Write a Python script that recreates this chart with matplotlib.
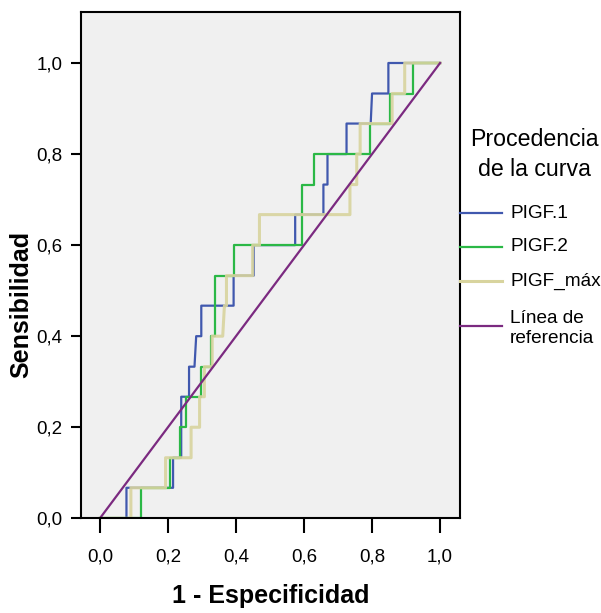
import matplotlib
matplotlib.use('Agg')
import matplotlib.pyplot as plt
from matplotlib.lines import Line2D

plt.rcParams['font.family'] = ['Liberation Sans', 'DejaVu Sans']

# ROC coordinates (1 - especificidad, sensibilidad)
pigf1_x = [0, 0.078, 0.078, 0.215, 0.215, 0.239, 0.239, 0.262, 0.262, 0.278, 0.283, 0.298, 0.298,
           0.393, 0.393, 0.452, 0.452, 0.574, 0.574, 0.657, 0.657, 0.669, 0.669, 0.725, 0.725,
           0.796, 0.800, 0.848, 0.848, 1.0]
pigf1_y = [0, 0, 0.067, 0.067, 0.133, 0.133, 0.267, 0.267, 0.333, 0.333, 0.400, 0.400, 0.467,
           0.467, 0.533, 0.533, 0.600, 0.600, 0.667, 0.667, 0.733, 0.733, 0.800, 0.800, 0.867,
           0.867, 0.933, 0.933, 1.0, 1.0]

pigf2_x = [0, 0.122, 0.122, 0.205, 0.205, 0.234, 0.234, 0.252, 0.252, 0.298, 0.298, 0.327, 0.327,
           0.337, 0.337, 0.393, 0.393, 0.594, 0.594, 0.628, 0.628, 0.794, 0.794, 0.853, 0.853,
           0.920, 0.920, 1.0]
pigf2_y = [0, 0, 0.067, 0.067, 0.133, 0.133, 0.200, 0.200, 0.267, 0.267, 0.333, 0.333, 0.400,
           0.400, 0.533, 0.533, 0.600, 0.600, 0.733, 0.733, 0.800, 0.800, 0.867, 0.867, 0.933,
           0.933, 1.0, 1.0]

pigfmax_x = [0, 0.091, 0.091, 0.193, 0.193, 0.268, 0.268, 0.293, 0.293, 0.307, 0.307, 0.330, 0.330,
             0.361, 0.366, 0.372, 0.372, 0.449, 0.449, 0.469, 0.469, 0.735, 0.735, 0.755, 0.755,
             0.765, 0.765, 0.859, 0.859, 0.896, 0.896, 1.0]
pigfmax_y = [0, 0, 0.067, 0.067, 0.133, 0.133, 0.200, 0.200, 0.267, 0.267, 0.333, 0.333, 0.400,
             0.400, 0.467, 0.467, 0.533, 0.533, 0.600, 0.600, 0.667, 0.667, 0.733, 0.733, 0.800,
             0.800, 0.867, 0.867, 0.933, 0.933, 1.0, 1.0]

ref_x = [0, 1]
ref_y = [0, 1]

ticks = [0.0, 0.2, 0.4, 0.6, 0.8, 1.0]
tick_labels = ['0,0', '0,2', '0,4', '0,6', '0,8', '1,0']
labels = ['PIGF.1', 'PIGF.2', 'PIGF_máx', 'Línea de\nreferencia']
colors = ['#4058AE', '#2BB846', '#D8D49E', '#7B2A80']

W, H = 601, 613
fig = plt.figure(figsize=(W / 100, H / 100), dpi=100)
ax = fig.add_axes([81 / W, 1 - 518.3 / H, (460 - 81) / W, (518.3 - 12.3) / H])
ax.set_facecolor('#F0F0F0')

ax.plot(pigf1_x, pigf1_y, color=colors[0], lw=1.6)
ax.plot(pigf2_x, pigf2_y, color=colors[1], lw=1.6)
ax.plot(pigfmax_x, pigfmax_y, color=colors[2], lw=2.2, alpha=0.9)
ax.plot(ref_x, ref_y, color=colors[3], lw=1.6)

ax.set_xlim(-19 / 341.5, 1 + 20 / 341.5)
ax.set_ylim(0, 506 / 455.3)
ax.set_xticks(ticks)
ax.set_xticklabels(tick_labels)
ax.set_yticks(ticks)
ax.set_yticklabels(tick_labels)
ax.tick_params(axis='both', width=1.5, labelsize=13.5, colors='black')
ax.tick_params(axis='y', length=7.2, pad=6)
ax.tick_params(axis='x', length=10.8, pad=11)
for s in ax.spines.values():
    s.set_linewidth(1.5)

ax.set_xlabel('1 - Especificidad', fontsize=18, fontweight='bold', labelpad=13)
ax.set_ylabel('Sensibilidad', fontsize=18, fontweight='bold')
ax.yaxis.set_label_coords(-0.1266, 0.4235)

# legend drawn by hand to the right of the plot
fig.text(534 / W, 1 - 140 / H, 'Procedencia', ha='center', va='center', fontsize=16.7)
fig.text(534 / W, 1 - 170 / H, 'de la curva', ha='center', va='center', fontsize=16.7)
ys = [213, 247, 281, 326]
for lab, col, yy in zip(labels, colors, ys):
    fig.add_artist(Line2D([460 / W, 502 / W], [1 - yy / H, 1 - yy / H], color=col,
                          lw=2.2 if col == colors[2] else 1.6, transform=fig.transFigure))
    ty = yy if '\n' not in lab else yy + 2.5
    fig.text(510 / W, 1 - ty / H, lab, ha='left', va='center', fontsize=13.7, linespacing=1.2)

fig.savefig('out.png', dpi=100)
